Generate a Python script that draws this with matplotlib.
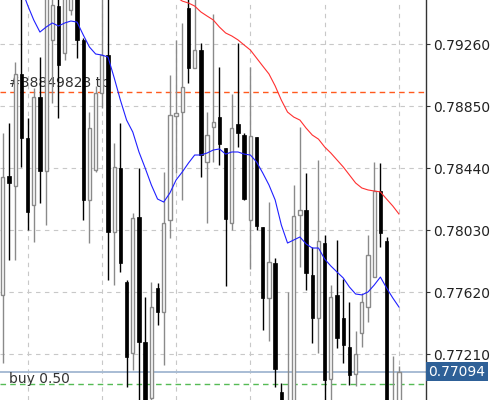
import numpy as np
import matplotlib.pyplot as plt

# candles, oldest first
opens = [0.77601, 0.78387, 0.78321, 0.79062, 0.78638, 0.78195, 0.78909, 0.78420, 0.79287, 0.79511,
         0.79200, 0.79485, 0.79617, 0.79287, 0.78229, 0.78427, 0.78936, 0.79187, 0.78017, 0.78440,
         0.77686, 0.77217, 0.78116, 0.77290, 0.76920, 0.77647, 0.77488, 0.78096, 0.78784, 0.78810,
         0.79498, 0.79101, 0.79220, 0.78480, 0.78711, 0.78777, 0.78572, 0.78076, 0.78731, 0.78658,
         0.78096, 0.78645, 0.78050, 0.77581, 0.77812, 0.76959, 0.76773, 0.76840, 0.78129, 0.78162,
         0.77732, 0.77448, 0.77944, 0.77045, 0.77601, 0.77448, 0.77257, 0.77078, 0.77349, 0.77521,
         0.77719, 0.78288, 0.77957, 0.76787, 0.76873]
highs = [0.78671, 0.78737, 0.79141, 0.79604, 0.78771, 0.78969, 0.79174, 0.79617, 0.79630, 0.79584,
         0.79604, 0.79716, 0.79650, 0.79300, 0.78810, 0.78983, 0.79584, 0.79584, 0.78605, 0.78737,
         0.77699, 0.78142, 0.78440, 0.77587, 0.77686, 0.77680, 0.78414, 0.79055, 0.79287, 0.79399,
         0.79584, 0.79584, 0.79267, 0.78810, 0.79458, 0.79108, 0.78572, 0.78929, 0.79267, 0.78671,
         0.79108, 0.78645, 0.78050, 0.78215, 0.77845, 0.77018, 0.77620, 0.78328, 0.78711, 0.78407,
         0.77918, 0.78493, 0.77997, 0.77666, 0.77964, 0.77706, 0.77554, 0.77362, 0.77614, 0.77997,
         0.78480, 0.78473, 0.77984, 0.77197, 0.77131]
lows = [0.77151, 0.77832, 0.77832, 0.78447, 0.78030, 0.77951, 0.78209, 0.78063, 0.78870, 0.78771,
        0.79154, 0.79452, 0.79167, 0.78096, 0.77944, 0.78414, 0.78837, 0.77699, 0.77666, 0.77752,
        0.76992, 0.77104, 0.76873, 0.76840, 0.76893, 0.77402, 0.77138, 0.77977, 0.78407, 0.78229,
        0.79002, 0.79101, 0.78381, 0.78076, 0.78480, 0.78460, 0.77660, 0.78030, 0.78579, 0.78229,
        0.77772, 0.78030, 0.77369, 0.77296, 0.76992, 0.76807, 0.76740, 0.76807, 0.77785, 0.77633,
        0.77283, 0.77217, 0.76893, 0.76893, 0.77250, 0.77151, 0.77005, 0.76999, 0.77257, 0.77422,
        0.77719, 0.77918, 0.76773, 0.76740, 0.76840]
closes = [0.78381, 0.78341, 0.79062, 0.78638, 0.78149, 0.78909, 0.78420, 0.79577, 0.79518, 0.79121,
          0.79571, 0.79650, 0.79287, 0.78229, 0.78704, 0.78936, 0.79187, 0.78017, 0.78447, 0.77812,
          0.77190, 0.78109, 0.77290, 0.76873, 0.77521, 0.77488, 0.78076, 0.78790, 0.78804, 0.78976,
          0.79101, 0.79220, 0.78526, 0.78658, 0.78743, 0.78598, 0.78103, 0.78704, 0.78671, 0.78235,
          0.78651, 0.78057, 0.77581, 0.77818, 0.77111, 0.76840, 0.76873, 0.78123, 0.78162, 0.77746,
          0.77448, 0.77957, 0.77038, 0.77587, 0.77316, 0.77270, 0.77071, 0.77211, 0.77554, 0.77865,
          0.78288, 0.78010, 0.76807, 0.76873, 0.77094]

# moving averages (start index, values)
fast_start = 3
fast_ma = [0.79630, 0.79518, 0.79419, 0.79339, 0.79372, 0.79399, 0.79379, 0.79399, 0.79412, 0.79405,
           0.79320, 0.79240, 0.79194, 0.79187, 0.79174, 0.79036, 0.78889, 0.78757, 0.78678, 0.78546,
           0.78440, 0.78328, 0.78235, 0.78215, 0.78275, 0.78361, 0.78414, 0.78473, 0.78526, 0.78526,
           0.78539, 0.78559, 0.78566, 0.78532, 0.78546, 0.78546, 0.78532, 0.78526, 0.78480, 0.78407,
           0.78328, 0.78229, 0.78063, 0.77944, 0.77964, 0.77984, 0.77938, 0.77911, 0.77911, 0.77838,
           0.77792, 0.77752, 0.77713, 0.77653, 0.77607, 0.77601, 0.77620, 0.77666, 0.77719, 0.77647,
           0.77581, 0.77521]
slow_start = 28
slow_ma = [0.79571, 0.79544, 0.79531, 0.79511, 0.79472, 0.79445, 0.79419, 0.79372, 0.79333, 0.79313,
           0.79287, 0.79253, 0.79220, 0.79167, 0.79114, 0.79062, 0.78983, 0.78889, 0.78810, 0.78777,
           0.78757, 0.78704, 0.78658, 0.78631, 0.78579, 0.78539, 0.78493, 0.78447, 0.78394, 0.78341,
           0.78308, 0.78295, 0.78288, 0.78282, 0.78235, 0.78189, 0.78136]

price_ticks = [0.79260, 0.78850, 0.78440, 0.78030, 0.77620, 0.77210]
time_grid = [4, 16, 28, 40, 52, 64]
tp_level = 0.78943
entry_level = 0.77012
current_price = 0.77094
tp_label = '#38849823 tp'
order_label = 'buy 0.50'

fig = plt.figure(figsize=(4.95, 4.0), dpi=100)
ax = fig.add_axes([0, 0, 426 / 495, 1])
ax.set_xlim(-0.45, 68.37)
ax.set_ylim(0.76906, 0.79551)

# grid
ax.set_xticks(time_grid)
ax.set_yticks(price_ticks)
ax.grid(True, color='#c8c8c8', linestyle=(0, (4, 4)), linewidth=0.8, zorder=0)
ax.set_axisbelow(True)

# order levels and labels (behind the candles)
ax.axhline(tp_level, color='#ff5a1e', linestyle=(0, (4, 3)), linewidth=1.0, zorder=1)
ax.axhline(current_price, color='#a8bcd4', linewidth=1.4, zorder=1)
ax.axhline(entry_level, color='#55bb55', linestyle=(0, (4, 3)), linewidth=1.0, zorder=1)
ax.text(1, tp_level + 0.00012, tp_label, fontsize=10, color='#333333', va='bottom', ha='left', zorder=1)
ax.text(1, current_price - 0.00006, order_label, fontsize=10, color='#333333', va='top', ha='left', zorder=1)

# candles
x = np.arange(len(opens))
o = np.array(opens)
h = np.array(highs)
l = np.array(lows)
c = np.array(closes)
up = c >= o
bull_col = '#8a8a8a'
ax.vlines(x[up], l[up], h[up], color=bull_col, linewidth=1.0, zorder=2)
ax.vlines(x[~up], l[~up], h[~up], color='black', linewidth=1.0, zorder=2)
ax.bar(x[up], (c - o)[up], bottom=o[up], width=0.52, facecolor='white',
       edgecolor=bull_col, linewidth=1.0, zorder=3)
ax.bar(x[~up], (o - c)[~up], bottom=c[~up], width=0.55, facecolor='black',
       edgecolor='black', linewidth=0.5, zorder=3)

# moving averages
ax.plot(np.arange(fast_start, fast_start + len(fast_ma)), fast_ma, color='#2020ff', linewidth=0.8, zorder=4)
ax.plot(np.arange(slow_start, slow_start + len(slow_ma)), slow_ma, color='#ff3030', linewidth=0.8, zorder=4)

# axes styling
for side in ['left', 'top', 'bottom']:
    ax.spines[side].set_visible(False)
ax.spines['right'].set_color('#333333')
ax.spines['right'].set_linewidth(1.0)
ax.yaxis.tick_right()
ax.set_yticklabels(['%.5f' % v for v in price_ticks])
ax.tick_params(axis='y', direction='out', length=3, width=0.8, colors='#333333',
               labelsize=10, labelcolor='#222222', pad=2)
ax.tick_params(axis='x', length=0, labelbottom=False)

# current price tag
ax.annotate('%.5f' % current_price, xy=(1.005, current_price), xycoords=('axes fraction', 'data'),
            fontsize=10, color='white', va='center', ha='left', annotation_clip=False,
            bbox=dict(boxstyle='square,pad=0.18', facecolor='#2e6097', edgecolor='none'))

fig.savefig('out.png', dpi=100)
